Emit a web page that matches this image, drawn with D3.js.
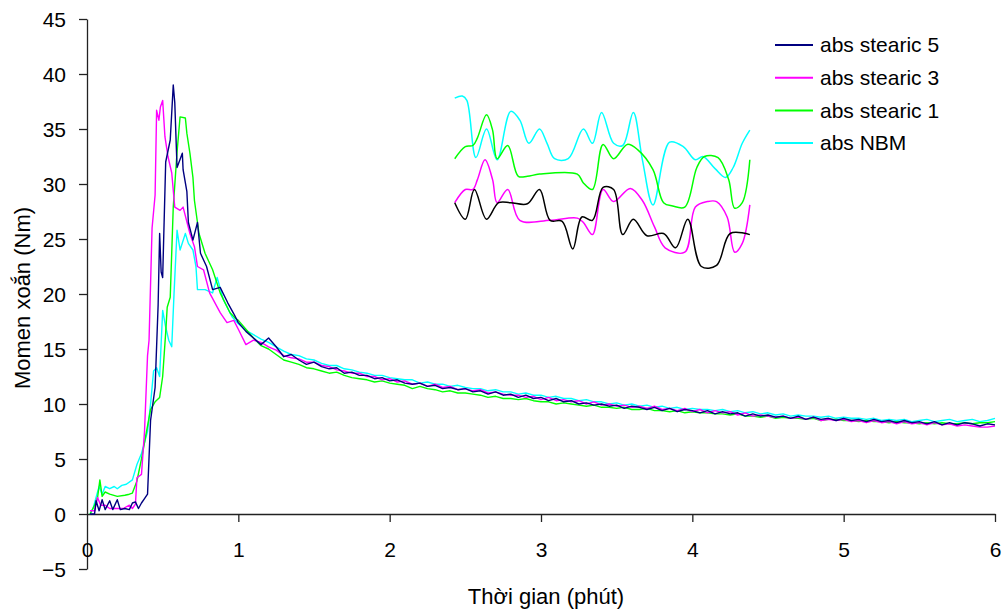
<!DOCTYPE html>
<html>
<head>
<meta charset="utf-8">
<script src="https://cdn.jsdelivr.net/npm/d3@7"></script>
<style>
  body { margin: 0; background: #fff; }
  svg text { font-family: "Liberation Sans", Arial, sans-serif; fill: #000; }
</style>
</head>
<body>
<div id="chart"></div>
<script>
// series names / colours (legend order)
var seriesNames = ["abs stearic 5", "abs stearic 3", "abs stearic 1", "abs NBM"];
var seriesColors = ["#000080", "#ff00ff", "#00ff00", "#00ffff"];

var xTicks = [0, 1, 2, 3, 4, 5, 6];
var yTicks = [-5, 0, 5, 10, 15, 20, 25, 30, 35, 40, 45];

// start of the run (time in min, torque in Nm)
var startS5 = [[0.02,0],[0.05,0],[0.06,1.2],[0.08,0.3],[0.10,1.3],[0.12,0.4],[0.15,1.2],[0.17,0.4],[0.20,1.3],[0.22,0.4],[0.25,0.5],[0.28,0.4],[0.30,1.0],[0.32,1.1],[0.34,0.5],[0.36,1.0],[0.38,1.4],[0.40,1.8],[0.42,8.5],[0.45,11.5],[0.47,19],[0.48,25.5],[0.49,22],[0.50,21.5],[0.52,32],[0.55,34],[0.57,39],[0.58,37.4],[0.595,31.5],[0.63,32.8],[0.635,31.3],[0.66,29.3],[0.67,26.5],[0.70,24.9],[0.73,26.5],[0.75,23.7],[0.79,22.5],[0.83,20.4],[0.88,20.6],[0.93,19.2],[0.97,18.2]];
var startS3 = [[0.02,0.3],[0.05,0.3],[0.07,1.5],[0.09,0.8],[0.12,0.8],[0.15,0.5],[0.20,0.5],[0.24,0.5],[0.28,0.8],[0.30,0.5],[0.32,0.9],[0.33,3.3],[0.36,3.6],[0.38,7.5],[0.40,14.4],[0.41,15.8],[0.43,26],[0.45,29],[0.46,36.7],[0.475,35.8],[0.485,37],[0.50,37.6],[0.515,34.3],[0.535,32.5],[0.56,31],[0.58,27.9],[0.615,27.6],[0.635,27.9],[0.68,25.5],[0.71,24.3],[0.73,22.5],[0.77,22.2],[0.81,20.1],[0.88,18.3],[0.925,17.4],[0.97,17.6]];
var startS1 = [[0.02,0],[0.05,0.8],[0.07,1.5],[0.085,3.1],[0.10,1.6],[0.12,2.0],[0.15,1.8],[0.20,1.6],[0.25,1.7],[0.28,1.8],[0.30,1.9],[0.33,3.0],[0.36,5.0],[0.40,8.0],[0.42,9.5],[0.45,10.2],[0.48,10.6],[0.50,12.5],[0.52,16.5],[0.53,18.8],[0.55,19.7],[0.57,27.9],[0.595,32.9],[0.615,36.1],[0.65,36],[0.66,34.6],[0.68,32.8],[0.70,30.6],[0.71,28.5],[0.74,25.5],[0.78,23.7],[0.83,22.2],[0.88,20.1],[0.945,18.3],[0.98,17.8]];
var startNBM = [[0.02,0],[0.04,0.5],[0.06,1.5],[0.08,2.5],[0.10,1.8],[0.12,2.5],[0.15,2.3],[0.18,2.5],[0.20,2.3],[0.23,2.6],[0.26,2.7],[0.30,3.1],[0.33,4.5],[0.36,5.5],[0.40,7.5],[0.42,10],[0.44,13],[0.46,13.3],[0.48,12.5],[0.50,18.5],[0.52,17],[0.54,15.8],[0.56,15.2],[0.575,20],[0.595,25.8],[0.615,24],[0.65,25.5],[0.67,24.6],[0.70,24],[0.72,22.5],[0.73,20.4],[0.78,20.4],[0.83,20.1],[0.86,21.5],[0.90,19.5],[0.96,17.9]];

// decay part, sampled every 0.05 min from 1.00 to 6.00
var tailTimes = d3.range(0, 101).map(i => 1 + i * 0.05);
var tailS5 = [17.4,16.6,16.0,15.4,16.0,15.2,14.3,14.5,14.0,13.6,13.8,13.4,13.2,13.3,12.8,12.9,12.6,12.6,12.3,12.4,
  12.1,12.2,11.9,11.8,11.9,11.6,11.7,11.4,11.5,11.3,11.4,11.1,11.2,10.9,11.1,10.8,10.9,10.6,10.8,10.5,
  10.6,10.3,10.5,10.2,10.3,10.0,10.1,9.9,10.0,9.8,9.9,9.6,9.8,9.7,9.5,9.7,9.4,9.6,9.3,9.5,
  9.4,9.2,9.4,9.1,9.3,9.1,9.2,8.9,9.1,8.9,9.0,8.8,8.9,8.7,8.9,8.6,8.8,8.6,8.7,8.5,
  8.7,8.5,8.6,8.4,8.6,8.4,8.5,8.3,8.5,8.3,8.4,8.2,8.4,8.1,8.3,8.1,8.3,8.2,8.0,8.2,8.1];
var tailS3 = [16.8,15.4,15.8,15.6,15.2,14.9,14.4,14.2,14.1,13.8,13.8,13.5,13.4,13.1,13.0,12.8,12.8,12.5,12.5,12.2,
  12.3,12.0,12.1,11.8,11.9,11.6,11.8,11.5,11.6,11.3,11.4,11.2,11.3,11.0,11.1,10.9,10.8,10.8,10.6,10.7,
  10.4,10.6,10.3,10.4,10.2,10.3,10.0,10.2,9.9,10.0,9.8,9.9,9.7,9.8,9.6,9.8,9.5,9.6,9.4,9.6,
  9.3,9.5,9.2,9.4,9.2,9.3,9.0,9.2,8.9,9.0,8.9,8.8,8.9,8.7,8.8,8.6,8.8,8.5,8.6,8.5,
  8.6,8.4,8.5,8.3,8.5,8.3,8.4,8.2,8.4,8.2,8.3,8.1,8.3,8.1,8.2,8.0,8.1,8.0,7.9,7.9,8.0];
var tailS1 = [17.6,16.8,16.0,15.3,15.0,14.5,14.0,13.8,13.6,13.3,13.2,13.0,12.8,12.9,12.6,12.4,12.3,12.2,12.0,12.1,
  11.9,11.8,11.7,11.4,11.6,11.4,11.3,11.1,11.2,11.0,11.0,10.9,10.8,10.6,10.7,10.5,10.5,10.4,10.5,10.3,
  10.2,10.2,10.0,10.1,10.0,9.9,9.8,9.9,9.7,9.7,9.6,9.7,9.5,9.5,9.6,9.4,9.4,9.3,9.4,9.2,
  9.3,9.2,9.2,9.1,9.1,9.0,9.1,8.9,8.9,8.8,8.9,8.7,8.8,8.7,8.7,8.6,8.7,8.5,8.6,8.6,
  8.5,8.5,8.4,8.5,8.4,8.4,8.3,8.4,8.3,8.3,8.2,8.3,8.2,8.3,8.2,8.2,8.3,8.2,8.3,8.3,8.4];
var tailNBM = [17.3,16.7,16.3,15.9,15.6,15.2,14.8,14.5,14.4,14.1,14.0,13.7,13.5,13.5,13.2,13.1,12.9,12.8,12.6,12.6,
  12.4,12.3,12.2,12.2,11.9,12.0,11.8,11.8,11.6,11.7,11.5,11.4,11.4,11.2,11.3,11.1,11.1,10.9,11.0,10.8,
  10.8,10.6,10.7,10.5,10.5,10.3,10.4,10.2,10.2,10.0,10.1,9.9,10.0,9.8,9.9,9.7,9.8,9.6,9.7,9.5,
  9.6,9.5,9.5,9.4,9.5,9.3,9.4,9.2,9.3,9.1,9.2,9.0,9.1,8.9,9.0,8.9,8.9,8.8,8.9,8.7,
  8.8,8.7,8.7,8.6,8.7,8.5,8.6,8.5,8.6,8.4,8.5,8.6,8.4,8.5,8.6,8.4,8.5,8.6,8.4,8.5,8.7];

// the wavy traces sitting under the legend (chart units)
var insetBlack = [[2.43,28.3],[2.50,26.8],[2.56,29.5],[2.64,26.8],[2.72,28.3],[2.80,28.3],[2.91,28.2],[2.99,29.5],[3.06,26.7],[3.14,26.6],[3.21,24.1],[3.27,27.0],[3.34,26.7],[3.41,29.7],[3.48,29.5],[3.54,25.4],[3.61,26.8],[3.70,25.3],[3.81,25.5],[3.89,24.2],[3.97,26.8],[4.06,22.5],[4.16,22.6],[4.25,25.5],[4.38,25.4]];
var insetMagenta = [[2.43,28.3],[2.50,29.5],[2.55,29.5],[2.58,30.4],[2.63,32.2],[2.68,30.4],[2.71,28.3],[2.78,29.5],[2.86,26.7],[3.06,26.7],[3.24,26.9],[3.28,26.5],[3.34,25.4],[3.41,29.5],[3.48,28.4],[3.59,29.6],[3.67,28.5],[3.75,26.1],[3.82,24.2],[3.95,23.8],[4.02,27.9],[4.10,28.4],[4.16,28.4],[4.23,27.0],[4.28,23.8],[4.33,24.6],[4.38,28.1]];
var insetGreen = [[2.43,32.3],[2.50,33.4],[2.55,33.5],[2.58,34.2],[2.64,36.3],[2.68,34.9],[2.71,32.3],[2.78,33.5],[2.85,30.7],[2.91,30.7],[2.99,30.9],[3.24,30.9],[3.28,30.1],[3.34,29.5],[3.41,33.6],[3.48,32.3],[3.57,33.6],[3.64,33.1],[3.74,31.3],[3.81,28.3],[3.87,28.0],[3.95,27.9],[4.03,31.5],[4.08,32.5],[4.17,32.4],[4.24,30.4],[4.28,27.8],[4.33,28.3],[4.38,32.2]];
var insetCyan = [[2.43,37.8],[2.48,38.0],[2.51,37.6],[2.57,32.4],[2.64,35.0],[2.71,32.2],[2.80,36.6],[2.86,35.8],[2.92,33.7],[2.99,35.0],[3.04,33.7],[3.09,32.3],[3.18,32.3],[3.28,35.0],[3.34,33.7],[3.40,36.5],[3.48,33.7],[3.54,33.5],[3.61,36.5],[3.67,32.2],[3.74,28.1],[3.85,33.8],[3.94,33.4],[4.02,32.2],[4.07,32.5],[4.15,31.4],[4.22,30.6],[4.27,31.5],[4.33,33.7],[4.38,34.9]];

var width = 1004, height = 615;

var svg = d3.select("#chart").append("svg")
  .attr("width", width)
  .attr("height", height);

var x = d3.scaleLinear().domain([0, 6]).range([87, 995]);
var y = d3.scaleLinear().domain([-5, 45]).range([569, 19]);

// axes
var yAxis = svg.append("g")
  .attr("transform", "translate(" + x(0) + ",0)")
  .call(d3.axisLeft(y).tickValues(yTicks).tickSize(8).tickPadding(13).tickSizeOuter(0));
yAxis.selectAll("text").style("font-size", "21px").attr("dy", "0.34em");

var xAxis = svg.append("g")
  .attr("transform", "translate(0," + y(0) + ")")
  .call(d3.axisBottom(x).tickValues(xTicks).tickFormat(d3.format("d")).tickSize(8).tickPadding(20).tickSizeOuter(0));
xAxis.selectAll("text").style("font-size", "21px");
xAxis.selectAll(".tick").filter(d => d === 0).select("line").remove();

svg.selectAll(".domain").attr("stroke", "#222").attr("stroke-width", 1.3);
svg.selectAll(".tick line").attr("stroke", "#222").attr("stroke-width", 1.3);

// axis titles
svg.append("text")
  .attr("transform", "translate(30,298) rotate(-90)")
  .attr("text-anchor", "middle")
  .style("font-size", "22px")
  .text("Momen xoắn (Nm)");

svg.append("text")
  .attr("x", 546)
  .attr("y", 604)
  .attr("text-anchor", "middle")
  .style("font-size", "22px")
  .text("Thời gian (phút)");

// main traces
var line = d3.line().x(d => x(d[0])).y(d => y(d[1]));

var starts = [startS5, startS3, startS1, startNBM];
var tails = [tailS5, tailS3, tailS1, tailNBM];
var drawOrder = [3, 2, 1, 0];

drawOrder.forEach(function (k) {
  var pts = starts[k].concat(tailTimes.map((t, i) => [t, tails[k][i]]));
  svg.append("path")
    .datum(pts)
    .attr("fill", "none")
    .attr("stroke", seriesColors[k])
    .attr("stroke-width", 1.4)
    .attr("stroke-linejoin", "round")
    .attr("d", line);
});

// inset wavy traces
var smooth = d3.line().x(d => x(d[0])).y(d => y(d[1])).curve(d3.curveCatmullRom.alpha(0.5));
[[insetCyan, "#00ffff"], [insetGreen, "#00ff00"], [insetMagenta, "#ff00ff"], [insetBlack, "#000000"]].forEach(function (s) {
  svg.append("path")
    .datum(s[0])
    .attr("fill", "none")
    .attr("stroke", s[1])
    .attr("stroke-width", 1.5)
    .attr("d", smooth);
});

// legend
var legend = svg.append("g").attr("transform", "translate(775,45)");
var rows = legend.selectAll("g")
  .data(seriesNames)
  .enter()
  .append("g")
  .attr("transform", (d, i) => "translate(0," + i * 32.7 + ")");
rows.append("line")
  .attr("x1", 0).attr("x2", 38)
  .attr("stroke", (d, i) => seriesColors[i])
  .attr("stroke-width", 2);
rows.append("text")
  .attr("x", 45)
  .attr("dy", "0.35em")
  .style("font-size", "21px")
  .text(d => d);
</script>
</body>
</html>
